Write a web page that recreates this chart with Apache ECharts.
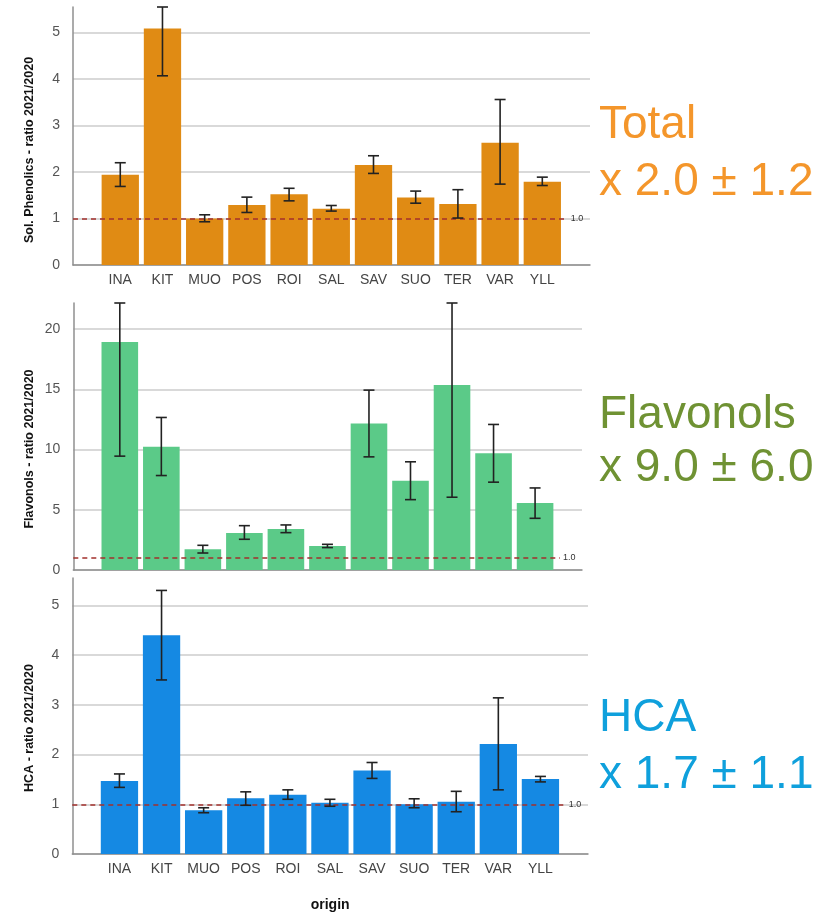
<!DOCTYPE html>
<html>
<head>
<meta charset="utf-8">
<script src="https://cdn.jsdelivr.net/npm/echarts@6/dist/echarts.min.js"></script>
<style>
  html, body { margin: 0; padding: 0; background: #fff; }
  #chart { width: 831px; height: 913px; }
</style>
</head>
<body>
<div id="chart"></div>
<script>
// Origins (shared by all three panels)
const categories = ['INA', 'KIT', 'MUO', 'POS', 'ROI', 'SAL', 'SAV', 'SUO', 'TER', 'VAR', 'YLL'];

// Soluble phenolics, ratio 2021/2020: mean and error-bar bounds
const totalMean = [1.94, 5.09, 1.00, 1.29, 1.52, 1.21, 2.15, 1.45, 1.31, 2.63, 1.79];
const totalLow  = [1.69, 4.07, 0.93, 1.13, 1.38, 1.16, 1.97, 1.33, 1.01, 1.74, 1.71];
const totalHigh = [2.20, 5.55, 1.08, 1.46, 1.65, 1.28, 2.35, 1.59, 1.62, 3.56, 1.89];

// Flavonols, ratio 2021/2020
const flavMean = [18.92, 10.22, 1.72, 3.07, 3.41, 1.99, 12.16, 7.40, 15.35, 9.70, 5.57];
const flavLow  = [9.45, 7.84, 1.41, 2.55, 3.10, 1.86, 9.39, 5.84, 6.04, 7.29, 4.29];
const flavHigh = [22.16, 12.66, 2.05, 3.68, 3.74, 2.13, 14.93, 8.98, 22.16, 12.08, 6.81];

// Hydroxycinnamic acids, ratio 2021/2020
const hcaMean = [1.47, 4.40, 0.88, 1.12, 1.19, 1.03, 1.68, 1.00, 1.05, 2.21, 1.51];
const hcaLow  = [1.34, 3.50, 0.83, 0.98, 1.10, 0.96, 1.52, 0.93, 0.85, 1.29, 1.45];
const hcaHigh = [1.61, 5.30, 0.93, 1.25, 1.29, 1.10, 1.84, 1.11, 1.26, 3.14, 1.56];

// Y tick values
const ratioTicks = [0, 1, 2, 3, 4, 5];
const flavTicks = [0, 5, 10, 15, 20];

// Reference ratio (no change between years)
const refRatio = 1.0;

// Side annotations: group name and mean ± sd of the ratio
const groupNames = ['Total', 'Flavonols', 'HCA'];
const groupSummary = ['x 2.0 ± 1.2', 'x 9.0 ± 6.0', 'x 1.7 ± 1.1'];
const axisTitles = ['Sol. Phenolics - ratio 2021/2020', 'Flavonols - ratio 2021/2020', 'HCA - ratio 2021/2020'];

const X_MIN = -1.12, X_MAX = 11.13;
const idx = categories.map((_, i) => i);
const FONT = 'Liberation Sans, Arial, sans-serif';

const panels = [
  { mean: totalMean, low: totalLow, high: totalHigh, ticks: ratioTicks, color: '#E08B14', yMax: 5.55,
    grid: { left: 73, width: 517, top: 7, height: 258 }, barWidth: 37.3, showLabels: true,
    textColor: '#F4962B', nameY: 150, textY: [125, 182] },
  { mean: flavMean, low: flavLow, high: flavHigh, ticks: flavTicks, color: '#5BCA88', yMax: 22.16,
    grid: { left: 73.3, width: 508.7, top: 303, height: 267 }, barWidth: 36.6, showLabels: false,
    textColor: '#6F9233', nameY: 449, textY: [415, 468] },
  { mean: hcaMean, low: hcaLow, high: hcaHigh, ticks: ratioTicks, color: '#1589E3', yMax: 5.55,
    grid: { left: 72.3, width: 515.7, top: 578, height: 282 }, barWidth: 37.3, showLabels: true,
    textColor: '#0FA0DC', nameY: 728, textY: [718, 775] }
];

const grids = [], xAxes = [], yAxes = [], series = [], graphics = [];

panels.forEach((p, k) => {
  grids.push(p.grid);
  xAxes.push({
    type: 'value', gridIndex: k, min: X_MIN, max: X_MAX,
    axisLine: { show: true, onZero: false, lineStyle: { color: '#8f8f8f', width: 1.5 } },
    axisTick: { show: false, customValues: idx },
    splitLine: { show: false },
    axisLabel: {
      show: p.showLabels, customValues: idx, margin: 8,
      formatter: v => categories[Math.round(v)] || '',
      color: '#444', fontSize: 14, fontFamily: FONT
    },
    name: k === 2 ? 'origin' : '',
    nameLocation: 'middle', nameGap: 44,
    nameTextStyle: { color: '#111', fontSize: 14, fontWeight: 'bold', fontFamily: FONT }
  });
  yAxes.push({
    type: 'value', gridIndex: k, min: 0, max: p.yMax,
    axisLine: { show: true, onZero: false, lineStyle: { color: '#8f8f8f', width: 1.5 } },
    axisTick: { show: false, customValues: p.ticks },
    splitLine: { show: true, lineStyle: { color: '#cdcdcd', width: 1.5 } },
    axisLabel: { customValues: p.ticks, color: '#555', fontSize: 14, margin: 13, fontFamily: FONT }
  });
  series.push({
    type: 'bar', xAxisIndex: k, yAxisIndex: k,
    barWidth: p.barWidth,
    data: p.mean.map((v, i) => [i, v]),
    itemStyle: { color: p.color },
    silent: true,
    markLine: {
      silent: true, symbol: 'none',
      lineStyle: { color: '#a3302c', type: [5, 4], width: 1.5 },
      label: { show: true, position: 'end', distance: 3, formatter: refRatio.toFixed(1),
        color: '#333', fontSize: 9, fontFamily: FONT },
      data: [[{ coord: [X_MIN, refRatio] }, { coord: [10.6, refRatio] }]]
    }
  });
  series.push({
    type: 'custom', xAxisIndex: k, yAxisIndex: k, z: 5, silent: true,
    data: p.mean.map((_, i) => [i, p.low[i], p.high[i]]),
    renderItem: (params, api) => {
      const lo = api.coord([api.value(0), api.value(1)]);
      const hi = api.coord([api.value(0), api.value(2)]);
      const hw = 5.5;
      const st = { stroke: '#222', lineWidth: 1.6 };
      return {
        type: 'group',
        children: [
          { type: 'line', shape: { x1: lo[0], y1: lo[1], x2: hi[0], y2: hi[1] }, style: st },
          { type: 'line', shape: { x1: lo[0] - hw, y1: lo[1], x2: lo[0] + hw, y2: lo[1] }, style: st },
          { type: 'line', shape: { x1: hi[0] - hw, y1: hi[1], x2: hi[0] + hw, y2: hi[1] }, style: st }
        ]
      };
    }
  });

  // Rotated y-axis title
  graphics.push({
    type: 'text', x: 30, y: p.nameY, rotation: Math.PI / 2,
    style: { text: axisTitles[k], fill: '#111', font: 'bold 12.5px "Liberation Sans", Arial, sans-serif',
      align: 'center', verticalAlign: 'middle' }
  });
  // Group annotation on the right
  graphics.push({
    type: 'text', x: 599, y: p.textY[0],
    style: { text: groupNames[k], fill: p.textColor, font: '46px "Liberation Sans", Arial, sans-serif',
      align: 'left', verticalAlign: 'middle' }
  });
  graphics.push({
    type: 'text', x: 599, y: p.textY[1],
    style: { text: groupSummary[k], fill: p.textColor, font: '46px "Liberation Sans", Arial, sans-serif',
      align: 'left', verticalAlign: 'middle' }
  });
});

const chart = echarts.init(document.getElementById('chart'), null, { renderer: 'canvas' });
chart.setOption({
  animation: false,
  backgroundColor: '#fff',
  grid: grids,
  xAxis: xAxes,
  yAxis: yAxes,
  series: series,
  graphic: graphics
});
</script>
</body>
</html>
